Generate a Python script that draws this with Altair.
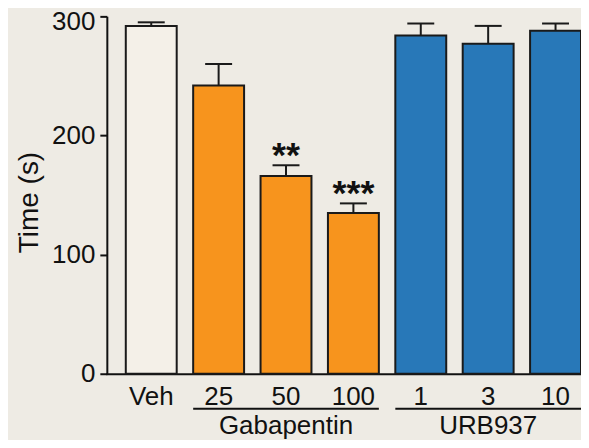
import altair as alt
import pandas as pd

# ---- data ----
categories = ["Veh", "25", "50", "100", "1", "3", "10"]
groups = ["Vehicle", "Gabapentin", "Gabapentin", "Gabapentin", "URB937", "URB937", "URB937"]
means = [292, 242, 166, 135, 284, 277, 288]
sems = [3, 18, 9, 8, 10, 15, 6]
stars = ["", "", "**", "***", "", "", ""]

group_names = ["Gabapentin", "URB937"]
group_first = ["25", "1"]
group_last = ["100", "10"]
group_mid = ["50", "3"]

group_domain = ["Vehicle", "Gabapentin", "URB937"]
group_colors = ["#f4f0e8", "#F7941D", "#2878B8"]

df = pd.DataFrame({
    "cat": categories,
    "group": groups,
    "mean": means,
    "sem": sems,
    "stars": stars,
})
df["top"] = df["mean"] + df["sem"]

gdf = pd.DataFrame({
    "name": group_names,
    "first": group_first,
    "last": group_last,
    "mid": group_mid,
})

W, H = 475, 358
FONT = "Liberation Sans"

xscale = alt.Scale(domain=categories, paddingInner=0.2444, paddingOuter=0.1407, align=1)
yscale = alt.Scale(domain=[0, 300], nice=False, zero=True)

def X(field):
    return alt.X(f"{field}:N", scale=xscale, sort=categories, title=None)

Y = alt.Y("mean:Q", scale=yscale, title="Time (s)",
          axis=alt.Axis(values=[0, 100, 200, 300], titleY=186,
                        labelOffset={"condition": {"test": "datum.value == 300", "value": 5}, "value": 0}))

base = alt.Chart(df)

bars = base.mark_bar(stroke="#1a1a1a", strokeWidth=2).encode(
    x=X("cat"),
    y=Y,
    fill=alt.Fill("group:N", scale=alt.Scale(domain=group_domain, range=group_colors), legend=None),
)

err_line = base.mark_rule(color="#1a1a1a", strokeWidth=2).encode(
    x=X("cat"),
    y=alt.Y("mean:Q", scale=yscale),
    y2="top:Q",
)

err_cap = base.mark_rule(color="#1a1a1a", strokeWidth=2, xOffset=-13.5, x2Offset=13.5).encode(
    x=X("cat"),
    x2="cat:N",
    y=alt.Y("top:Q", scale=yscale),
)

star_text = base.transform_filter("datum.stars != ''").mark_text(
    font=FONT, fontSize=36, fontWeight="bold", baseline="alphabetic", dy=2, color="#111111"
).encode(
    x=X("cat"),
    y=alt.Y("top:Q", scale=yscale),
    text="stars:N",
)

gbase = alt.Chart(gdf)
underline = gbase.mark_rule(color="#111111", strokeWidth=2, xOffset=-25.5, x2Offset=25.5).encode(
    x=X("first"),
    x2="last:N",
    y=alt.value(H + 35),
)

glabel = gbase.mark_text(font=FONT, fontSize=26, baseline="alphabetic", color="#111111").encode(
    x=X("mid"),
    y=alt.value(H + 60),
    text="name:N",
)

chart = alt.layer(bars, err_line, err_cap, star_text, underline, glabel).properties(
    width=W,
    height=H,
    padding={"left": 99, "top": 8, "right": 0, "bottom": 66},
    autosize=alt.AutoSizeParams(type="none"),
    background="#eeebe4",
).configure_view(
    stroke=None,
    fill=None,
).configure_axis(
    labelFont=FONT,
    titleFont=FONT,
    labelFontSize=26,
    titleFontSize=28,
    titleFontWeight="normal",
    labelColor="#111111",
    titleColor="#111111",
    domainColor="#111111",
    domainWidth=2,
    tickColor="#111111",
    tickWidth=2,
    grid=False,
).configure_axisX(
    labelAngle=0,
    ticks=False,
    tickSize=0,
    labelPadding=10,
    domainCap="square",
).configure_axisY(
    tickSize=7,
    labelPadding=5,
    titlePadding=8,
)

chart.save("out.html", embed_options={"renderer": "svg", "actions": False})
